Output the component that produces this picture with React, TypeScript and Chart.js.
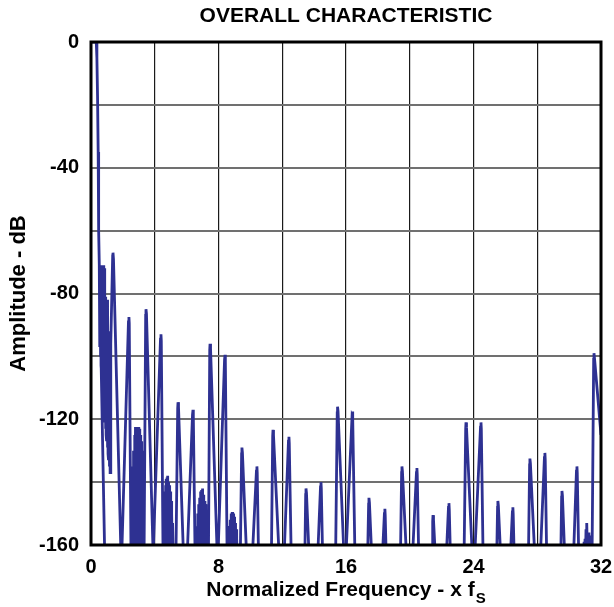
import React, { useEffect, useRef } from 'react';
import { Chart, registerables } from 'chart.js';

Chart.register(...registerables);

type Pt = [number, number];

const chartTitle = 'OVERALL CHARACTERISTIC';
const xAxisTitleMain = 'Normalized Frequency - x f';
const xAxisTitleSub = 'S';
const yAxisTitle = 'Amplitude - dB';

const xTickLabels = [0, 8, 16, 24, 32];
const yTickLabels = [0, -40, -80, -120, -160];

// [normalized frequency, amplitude dB]
const passbandAndMainLobe: Pt[] = [
  [0, 0], [0.33, 0], [0.37, -5], [0.41, -17], [0.45, -35], [0.48, -60],
  [0.86, -163], [0.52, -71],
];

const sidelobes0to4: Pt[] = [
  [0.55, -97], [0.57, -71], [0.59, -100], [0.61, -71], [0.63, -103], [0.65, -71],
  [0.67, -106], [0.69, -71], [0.71, -109], [0.73, -71], [0.75, -112], [0.77, -71],
  [0.79, -115], [0.81, -71], [0.83, -118], [0.85, -72], [0.87, -121], [0.89, -81],
  [0.91, -123], [0.93, -81], [0.95, -125], [0.97, -82], [0.99, -127], [1.01, -82],
  [1.03, -129], [1.05, -84], [1.07, -131], [1.09, -92], [1.11, -133], [1.13, -93],
  [1.15, -135], [1.17, -94], [1.2, -137], [1.24, -96],
  [1.36, -68], [1.38, -67], [1.41, -69], [1.88, -163],
  [1.93, -163], [2.35, -89], [2.38, -87.5], [2.4, -89.5], [2.51, -163],
  [2.58, -163], [2.61, -135], [2.64, -163], [2.67, -130], [2.7, -163], [2.73, -125],
  [2.76, -163], [2.79, -122.5], [2.82, -163], [2.85, -122.5], [2.88, -163], [2.91, -123],
  [2.94, -163], [2.97, -122.5], [3.0, -163], [3.03, -123], [3.06, -163], [3.09, -125],
  [3.12, -163], [3.15, -127], [3.18, -163], [3.21, -130], [3.24, -163], [3.27, -133],
  [3.3, -163],
  [3.33, -163], [3.43, -87], [3.45, -85], [3.48, -86.5], [3.9, -163],
  [3.94, -163], [4.36, -94.5], [4.39, -93], [4.41, -95], [4.52, -163],
];

const sidelobes4to8: Pt[] = [
  [4.55, -163], [4.57, -147], [4.6, -163], [4.62, -143], [4.65, -163], [4.67, -141],
  [4.7, -163], [4.72, -139], [4.75, -163], [4.77, -138.5], [4.8, -163], [4.82, -138],
  [4.85, -163], [4.87, -140], [4.9, -163], [4.92, -141], [4.95, -163], [4.97, -143],
  [5.0, -163], [5.02, -146], [5.05, -163], [5.07, -150], [5.1, -163], [5.12, -153],
  [5.15, -163],
  [5.33, -163], [5.44, -116.6], [5.46, -114.6], [5.49, -116], [5.8, -163],
  [6.04, -163], [6.37, -118.5], [6.4, -117], [6.42, -119], [6.53, -163],
  [6.62, -163], [6.64, -154], [6.67, -163], [6.7, -150], [6.73, -163], [6.76, -147],
  [6.79, -163], [6.82, -145], [6.85, -163], [6.88, -143], [6.91, -163], [6.94, -142.5],
  [6.97, -163], [7.0, -142], [7.03, -163], [7.06, -144], [7.09, -163], [7.12, -146],
  [7.15, -163], [7.18, -147], [7.21, -163], [7.24, -149], [7.27, -163], [7.3, -150],
  [7.33, -163], [7.35, -155], [7.37, -163],
  [7.45, -98], [7.47, -96], [7.5, -97.5], [7.92, -163],
];

const sidelobes8to16: Pt[] = [
  [7.97, -163], [8.38, -101], [8.41, -99.5], [8.43, -101.5], [8.54, -163],
  [8.6, -163], [8.62, -157], [8.65, -163], [8.68, -154], [8.71, -163], [8.74, -152],
  [8.77, -163], [8.8, -150], [8.83, -163], [8.86, -149.5], [8.89, -163], [8.92, -150],
  [8.95, -163], [8.98, -151], [9.01, -163], [9.04, -153], [9.07, -163], [9.1, -155],
  [9.13, -163], [9.15, -158], [9.17, -163],
  [9.37, -163], [9.45, -131], [9.47, -129], [9.5, -130.5], [9.76, -163],
  [10.13, -163], [10.38, -136.5], [10.41, -135], [10.43, -137], [10.51, -163],
  [11.32, -163], [11.4, -125.4], [11.42, -123.4], [11.45, -125], [11.8, -163],
  [12.12, -163], [12.39, -127], [12.42, -125.6], [12.44, -127.6], [12.56, -163],
  [13.42, -163], [13.47, -144], [13.49, -142], [13.52, -143.5], [13.68, -163],
  [14.23, -163], [14.4, -141.5], [14.43, -140], [14.45, -142], [14.53, -163],
  [15.35, -163], [15.45, -118], [15.47, -116], [15.5, -117.5], [15.87, -163],
];

const sidelobes16to24: Pt[] = [
  [16.0, -163], [16.38, -119], [16.41, -117.5], [16.43, -119.5], [16.56, -163],
  [17.36, -163], [17.42, -147], [17.44, -145], [17.47, -146.5], [17.61, -163],
  [18.29, -163], [18.41, -150], [18.44, -148.5], [18.46, -150.5], [18.52, -163],
  [19.42, -163], [19.49, -137], [19.51, -135], [19.54, -136.5], [19.79, -163],
  [20.18, -163], [20.42, -137], [20.45, -135.5], [20.47, -137.5], [20.56, -163],
  [21.4, -163], [21.44, -152.5], [21.46, -150.5], [21.49, -152], [21.6, -163],
  [22.3, -163], [22.43, -148], [22.46, -146.7], [22.48, -148.7], [22.55, -163],
  [23.41, -163], [23.51, -123], [23.53, -121], [23.56, -122.5], [23.92, -163],
];

const sidelobes24to32: Pt[] = [
  [24.08, -163], [24.44, -122.5], [24.47, -121], [24.49, -123], [24.6, -163],
  [25.46, -163], [25.51, -148], [25.53, -146], [25.56, -147.5], [25.7, -163],
  [26.32, -163], [26.44, -149.5], [26.47, -148], [26.49, -150], [26.55, -163],
  [27.45, -163], [27.52, -134.5], [27.54, -132.5], [27.57, -134], [27.84, -163],
  [28.2, -163], [28.45, -132.2], [28.48, -130.7], [28.5, -132.7], [28.59, -163],
  [29.48, -163], [29.53, -144.8], [29.55, -142.8], [29.58, -144.3], [29.72, -163],
  [30.28, -163], [30.46, -136.5], [30.49, -135], [30.51, -137], [30.6, -163],
  [30.86, -163], [30.88, -160], [30.91, -163], [30.94, -159], [30.97, -163], [31.0, -158],
  [31.03, -163], [31.06, -155], [31.09, -163], [31.12, -153], [31.15, -163], [31.18, -156],
  [31.21, -163], [31.24, -156], [31.27, -163], [31.3, -157], [31.33, -163], [31.36, -159],
  [31.39, -163], [31.42, -160], [31.44, -163],
  [31.46, -163], [31.54, -101], [31.56, -99], [31.6, -101], [32, -125],
];

const FONT = '"Liberation Sans", Arial, Helvetica, sans-serif';

const decorPlugin = {
  id: 'decor',
  afterDatasetsDraw(chart: any) {
    const { ctx, chartArea: a } = chart;
    ctx.save();
    ctx.strokeStyle = '#000';
    ctx.lineWidth = 3;
    ctx.strokeRect(a.left, a.top, a.right - a.left, a.bottom - a.top);

    ctx.fillStyle = '#000';
    ctx.textBaseline = 'alphabetic';
    ctx.textAlign = 'center';
    ctx.font = `bold 21px ${FONT}`;
    ctx.fillText(chartTitle, (a.left + a.right) / 2, 22);

    ctx.textAlign = 'left';
    ctx.font = `bold 21px ${FONT}`;
    const w1 = ctx.measureText(xAxisTitleMain).width;
    ctx.font = `bold 15px ${FONT}`;
    const w2 = ctx.measureText(xAxisTitleSub).width;
    const x0 = (a.left + a.right) / 2 - (w1 + 1 + w2) / 2;
    ctx.font = `bold 21px ${FONT}`;
    ctx.fillText(xAxisTitleMain, x0, 596);
    ctx.font = `bold 15px ${FONT}`;
    ctx.fillText(xAxisTitleSub, x0 + w1 + 1, 603);
    ctx.restore();
  },
};

export default function App() {
  const canvasRef = useRef<HTMLCanvasElement | null>(null);

  useEffect(() => {
    document.body.style.margin = '0';
    const canvas = canvasRef.current;
    if (!canvas) return;
    const points = [
      ...passbandAndMainLobe,
      ...sidelobes0to4,
      ...sidelobes4to8,
      ...sidelobes8to16,
      ...sidelobes16to24,
      ...sidelobes24to32,
    ].map(([x, y]) => ({ x, y }));

    const chart = new Chart(canvas, {
      type: 'line',
      data: {
        datasets: [
          {
            data: points,
            borderColor: '#2e3192',
            borderWidth: 2.8,
            pointRadius: 0,
            tension: 0,
            fill: false,
          },
        ],
      },
      options: {
        animation: false,
        responsive: false,
        events: [],
        layout: { padding: { top: 42, right: 13, left: 0, bottom: 0 } },
        plugins: {
          legend: { display: false },
          tooltip: { enabled: false },
          title: { display: false },
        },
        scales: {
          x: {
            type: 'linear',
            min: 0,
            max: 32,
            afterFit: (s: any) => {
              s.height = 62;
              s.paddingLeft = 0;
              s.paddingRight = 0;
            },
            ticks: {
              stepSize: 4,
              autoSkip: false,
              maxRotation: 0,
              padding: 10,
              color: '#000',
              font: { size: 20, weight: 'bold', family: FONT },
              callback: (v: any) => (xTickLabels.includes(Number(v)) ? String(v) : ''),
            },
            grid: { color: '#1a1a1a', lineWidth: 1.2, drawTicks: false },
            border: { display: false },
          },
          y: {
            type: 'linear',
            min: -160,
            max: 0,
            afterFit: (s: any) => {
              s.width = 91;
              s.paddingTop = 0;
              s.paddingBottom = 0;
            },
            ticks: {
              stepSize: 20,
              autoSkip: false,
              padding: 12,
              color: '#000',
              font: { size: 20, weight: 'bold', family: FONT },
              callback: (v: any) => (yTickLabels.includes(Number(v)) ? String(v) : ''),
            },
            grid: { color: '#707070', lineWidth: 2, drawTicks: false },
            border: { display: false },
            title: {
              display: true,
              text: yAxisTitle,
              color: '#000',
              font: { size: 22, weight: 'bold', family: FONT },
              padding: { top: 6, bottom: 0 },
            },
          },
        },
      },
      plugins: [decorPlugin],
    });
    return () => chart.destroy();
  }, []);

  return (
    <div style={{ width: 614, height: 607 }}>
      <canvas ref={canvasRef} width={614} height={607} style={{ display: 'block' }} />
    </div>
  );
}
